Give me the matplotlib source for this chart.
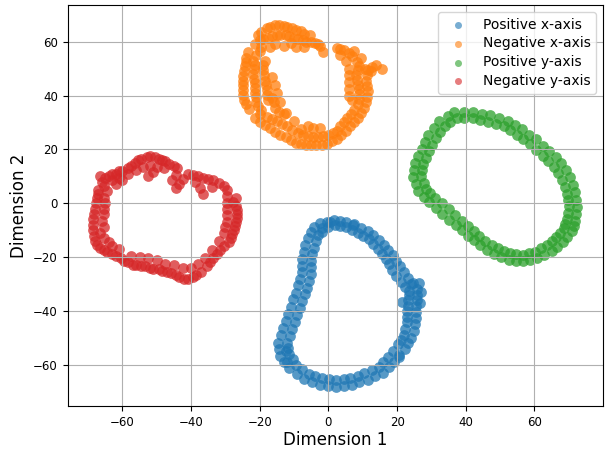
import matplotlib
matplotlib.use("Agg")
import matplotlib.pyplot as plt

# ---- DATA ----
labels = ["Positive x-axis", "Negative x-axis", "Positive y-axis", "Negative y-axis"]
colors = ["#1f77b4", "#ff7f0e", "#2ca02c", "#d62728"]

pos_x_pts = [
    (-2.4, -7.4), (-0.1, -8.9), (1.6, -6.3), (3.5, -8.6), (5.2, -6.8), (6.8, -10.1),
    (9.4, -9.2), (10, -12.3), (13.1, -11.8), (13, -15.2), (16.2, -15.5), (15.6, -18.8),
    (18.8, -19.2), (17.7, -22.6), (20.8, -23.4), (19.8, -27), (23.2, -27.8), (22.2, -31),
    (25.8, -31.8), (23.4, -34), (25.9, -35.9), (23.1, -38), (25.4, -40.4), (22.8, -42.2),
    (25.3, -44.9), (22.4, -46.6), (24.2, -50.1), (21.1, -50.8), (22.2, -54), (18.8, -54.9),
    (19.2, -59), (16, -59), (16, -62.9), (12.6, -61.9), (11.5, -65.5), (8.6, -64),
    (6.8, -67.5), (4.4, -65.2), (2.1, -68.1), (0.3, -65.2), (-2.4, -67.4), (-3.8, -64.1),
    (-7.2, -65.3), (-7.6, -61.6), (-11.4, -61.3), (-10.4, -57.9), (-14, -56.7), (-11.8, -53.9),
    (-14.6, -51.9), (-11.3, -49.2), (-13.1, -46.2), (-9.8, -44), (-11.7, -41.2), (-8.4, -38.8),
    (-10.2, -35.6), (-6.9, -33.6), (-8.8, -30.5), (-5.7, -28.8), (-7.8, -25.6), (-5.2, -23.7),
    (-7.8, -20.7), (-4.8, -19), (-6.8, -15.6), (-3.6, -14.2), (-5.2, -10.6), (-2, -10.6),
    (27, -33), (26.8, -37), (26.5, -29.5), (21.5, -36.5), (24, -30), (0.5, -6.8),
    (7.5, -7.8), (-12.5, -55), (-12, -59), (20.5, -57),
    (-1.8, -9.2), (-0.3, -6.8), (1.8, -8.1), (3.3, -6.5), (5, -8.7), (7.3, -8),
    (8.6, -11.1), (11.4, -10.2), (11.7, -13.4), (14.7, -13.5), (14.4, -17), (17.5, -17.3),
    (16.8, -20.6), (19.8, -21.3), (18.6, -24.8), (22, -25.6), (21, -29.2), (24.5, -29.7),
    (23.4, -32.6), (25.8, -34.1), (23.3, -35.9), (25.6, -38.1), (22.8, -40), (25.4, -42.5),
    (22.9, -44.1), (24.8, -47.4), (22, -48.9), (23.2, -51.9), (20.2, -52.4), (20.7, -56.4),
    (17.4, -57.2), (17.6, -60.9), (14.6, -60.7), (13.7, -64.2), (10.5, -63.1), (9, -66.5),
    (6.4, -64.9), (4.4, -67.8), (2.3, -65.5), (-0.2, -67.8), (-1.8, -65), (-4.8, -66.4),
    (-5.8, -63.3), (-9.3, -63.3), (-9.4, -59.9), (-12.8, -59), (-11.6, -55.9), (-14.3, -54.3),
    (-12, -51.9), (-13.8, -49.1), (-10.5, -46.6), (-12.4, -43.8), (-9.1, -41.6), (-10.9, -38.5),
    (-7.6, -36.2), (-9.5, -33.2), (-6.2, -31.3), (-8.3, -28.1), (-5.2, -26.4), (-7.8, -23.3),
    (-5.2, -21.3), (-7.2, -18.1), (-4.2, -16.6), (-6, -13), (-3, -11.9), (-4.2, -8.7),
]

neg_x_pts = [
    # top arc
    (-20.5, 62.5), (-18, 65), (-15.5, 66), (-13, 65.8), (-10.5, 65), (-8, 63.8), (-5.5, 62.5),
    (-21.5, 59), (-19, 61), (-16.5, 62), (-14, 62.5), (-11.5, 62), (-9, 61), (-6.5, 60),
    (-4, 59.5), (-2.5, 58.5), (-17, 58), (-13, 58.5), (-9.5, 58), (-1.5, 56),
    (-19.5, 63.5), (-17, 65.5), (-14.5, 66), (-12, 65.5), (-9.5, 64.5), (-7, 63),
    (-20, 60.5), (-17.5, 61.5), (-15, 62.3), (-12.5, 62.3), (-10, 61.5), (-7.5, 60.5),
    (-5, 60), (-3, 59), (-15.5, 59), (-11, 59.5), (-19.5, 58), (-7, 58),
    # left side
    (-23.5, 56), (-24, 52.5), (-24.5, 49), (-25, 45.5), (-25, 42), (-24.5, 38.5), (-23, 35),
    (-21, 55), (-21.5, 51.5), (-22, 48), (-21.5, 44.5), (-21.5, 41), (-21, 37.5), (-19.5, 34.5),
    (-18.5, 53), (-19, 49.5), (-18.5, 45.5), (-18, 42), (-17.5, 38.5), (-16.5, 39), (-15.5, 35.5),
    (-24, 54), (-24.3, 50.8), (-24.8, 47.3), (-25, 43.8), (-24.8, 40.3), (-24, 36.8),
    (-22, 53), (-21.8, 49.8), (-21.8, 46.3), (-21.5, 42.8), (-21.2, 39.3), (-20.5, 36),
    (-19, 51.3), (-18.8, 47.5), (-18.2, 44), (-17.8, 40.3), (-16, 37.5), (-20, 56.5),
    (-15, 41), (-14, 37.5), (-12.5, 33.5), (-10, 30.5), (-16.5, 47), (-15.5, 44),
    # bottom
    (-21.5, 31.5), (-18.5, 29), (-15.5, 26.5), (-12.5, 24.5), (-18, 32), (-15, 30.5),
    (-12, 28.5), (-13, 33), (-9.5, 22.5), (-6.5, 21.5), (-3.5, 21.5), (-0.5, 22),
    (-9, 26), (-6, 25), (-3, 24.5), (0, 25.5), (2.5, 27), (-6, 28.5), (-2.5, 28),
    (-20, 30.2), (-17, 27.8), (-14, 25.5), (-19.8, 33), (-16.5, 31.3), (-13.5, 29.5),
    (-14.5, 34), (-10.5, 27.3), (-11, 23.5), (-8, 22), (-5, 21.5), (-2, 21.7), (1, 23),
    (-7.5, 25.5), (-4.5, 24.7), (-1.5, 25), (1.2, 26.2), (-4.5, 28), (-8, 27.5),
    # right side
    (2.5, 24), (5, 27), (7.5, 30), (9.5, 33.5), (4.5, 30), (6.5, 33),
    (11, 37.5), (11.5, 41.5), (11, 45.5), (11.5, 49.5), (14, 51.5), (15.5, 50),
    (8.5, 37), (9, 40.5), (8.5, 44), (8, 47.5), (9, 51), (12.5, 49),
    (6, 40), (6, 45), (6, 50), (7, 54.5), (4.5, 57), (2.5, 57.5), (9.5, 54), (5, 53),
    (3.8, 25.5), (6.2, 28.5), (8.5, 31.8), (3.5, 28.5), (5.5, 31.5), (7.5, 34.5),
    (10.3, 35.5), (11.3, 39.5), (11.3, 43.5), (11.2, 47.5), (12.8, 50.5), (8.8, 38.8),
    (8.8, 42.3), (8.2, 45.8), (8.5, 49.3), (10.8, 50), (7, 38.5), (6, 42.5), (6, 47.5),
    (8.3, 52.5), (6, 55.8), (3.5, 57.3), (3.5, 55), (7.5, 56.5),
]

pos_y_pts = [
    (36.6, 33.9), (39.6, 31.5), (42, 33.9), (44.2, 30.9), (47.1, 32.7), (48.9, 29.4),
    (52.3, 30.7), (52.9, 27.1), (56.4, 27.5), (56.7, 23.8), (60.4, 23.7), (60.5, 19.9),
    (64.3, 19.3), (64, 15.7), (67.9, 14.9), (66.9, 11.2), (70.5, 9.8), (68.8, 6.2),
    (71.9, 4), (69.7, 1.2), (72.4, -1.3), (69.7, -3.5), (71.9, -6.6), (69, -7.6),
    (70.9, -10.5), (67.6, -10.9), (68.2, -14.5), (65.1, -14.1), (65, -17.8), (62, -16.8),
    (60.9, -20.4), (58.4, -18.6), (56.6, -21.6), (54.7, -18.9), (52.5, -21), (51.2, -17.7),
    (48.2, -19), (47.6, -15.4), (44.1, -15.7), (44, -12.1), (40.7, -12), (40.6, -8.4),
    (37.1, -8.2), (36.9, -4.4), (33.2, -3.9), (33, -0.1), (29.3, 0.4), (29.7, 3.8),
    (26.2, 4.4), (27.8, 7.6), (24.7, 9.8), (27.3, 12.3), (25.1, 15), (28.4, 16.9),
    (27.2, 20.2), (30.3, 21.8), (29.1, 25.3), (32.6, 26.4), (32.3, 30.4), (35.4, 30),
    (37.6, 31.5), (39.5, 33.9), (42, 31.5), (44.6, 33.3), (46.5, 30.3), (49.6, 31.7),
    (51.1, 28.5), (54.4, 29), (54.8, 25.5), (58.4, 25.5), (58.6, 21.9), (62.4, 21.4),
    (62.5, 17.7), (66.2, 17), (65.7, 13.5), (69.2, 12.3), (68.1, 8.8), (71.2, 6.8),
    (69.5, 3.4), (72.2, 1.3), (70, -1.1), (72.2, -3.9), (69.5, -5.8), (71.5, -8.5),
    (68.7, -9.3), (69.5, -12.6), (66.4, -12.7), (66.6, -16.2), (63.8, -15.6), (62.9, -19.1),
    (60.1, -18), (58.7, -21), (56.6, -19.2), (54.6, -21.3), (52.9, -18.6), (50.3, -20),
    (49.4, -16.8), (46.1, -17.3), (45.7, -13.9), (42.4, -13.8), (42.3, -10.2), (38.9, -10.1),
    (38.9, -6.6), (35.2, -6.1), (35, -2.3), (31.3, -1.8), (31.1, 2), (27.8, 2.3),
    (28.4, 5.4), (25.4, 7.2), (27.1, 10), (24.9, 12.4), (27.5, 14.6), (26.2, 17.7),
    (29.4, 19.4), (28.2, 22.7), (31.3, 24.1), (30.8, 27.9), (34.1, 28.8), (34.9, 32.3),
]

neg_y_pts = [
    # left side
    (-68, -14), (-68.5, -10), (-68.5, -6), (-68, -2), (-67.5, 2), (-67, 5),
    (-65.5, -9), (-65.5, -4), (-65, 0),
    (-68.2, -12), (-68.5, -8), (-68.3, -4), (-67.8, 0), (-67.2, 3.5), (-66.5, -11),
    (-66, -6.5), (-65.5, -2), (-65.5, 2),
    # upper-left blob
    (-66, 8), (-64, 10), (-62, 11), (-60, 12), (-64.5, 4.5), (-62, 7), (-60, 8.5),
    (-65, 9.5), (-63, 11), (-61, 12), (-65.5, 6.5), (-63, 8.5), (-61, 9.5), (-58.5, 11),
    (-66.5, 10),
    # top bump
    (-57.5, 14), (-55.5, 16), (-53, 17), (-50.5, 17), (-48.5, 16), (-46.5, 14.5), (-44, 13),
    (-54, 13.5), (-50, 13.5), (-52.5, 10),
    (-58.5, 13), (-56.5, 15), (-54.5, 16.5), (-52, 17.5), (-49.5, 16.5), (-47.5, 15.5),
    (-45, 14), (-56, 12.5), (-52, 14), (-48, 13), (-51, 11.5),
    (-45.5, 8.5), (-43.5, 7), (-44.5, 10.5), (-42.5, 9), (-44.5, 5.5),
    # upper right
    (-41, 11), (-38, 10), (-35, 9), (-32, 7.5), (-29.5, 5), (-36.5, 3.5),
    (-39.5, 10.5), (-36.5, 9.5), (-33.5, 8.5), (-30.5, 6.5), (-39, 8), (-34, 6), (-37.5, 5.5),
    # right side
    (-27, 2), (-26.8, -1), (-26.5, -4), (-26.8, -7), (-27.5, -10), (-28.5, -13),
    (-29.5, 2.5), (-29.5, -2), (-29.5, -7), (-30.5, -11),
    (-27.8, 0.5), (-26.6, -2.5), (-26.6, -5.5), (-27.2, -8.5), (-28, -11.5), (-29, -14.5),
    (-29.5, 0), (-29.5, -4.5), (-30, -9),
    # lower right
    (-30.5, -16), (-32.5, -19), (-34.5, -22),
    (-31.5, -17.5), (-33.5, -20.5), (-35.5, -23.5), (-32, -14), (-34, -17.5), (-36, -20.5),
    # bottom
    (-37, -25.5), (-39.5, -27.5), (-42, -28), (-44.5, -26.5), (-47, -25.5), (-49.5, -24.5),
    (-52, -24), (-54.5, -23.5), (-57, -23), (-59.5, -21.5),
    (-40, -24), (-45, -23), (-50, -21), (-55, -20),
    (-38.5, -26.5), (-41, -28), (-43.5, -27.5), (-46, -26), (-48.5, -25), (-51, -24.5),
    (-53.5, -23.5), (-56, -23), (-58.5, -22), (-60.5, -20.5), (-38, -22.5), (-42.5, -24),
    (-47.5, -22.5), (-52.5, -20.5), (-57.5, -19.5),
    # bottom left
    (-62, -19.5), (-64.5, -18), (-66.5, -16.5), (-63, -16), (-65.5, -13),
    (-63, -19), (-65.5, -17.5), (-67.3, -15.5), (-61, -17), (-64, -14.5),
]

clusters = [pos_x_pts, neg_x_pts, pos_y_pts, neg_y_pts]

# ---- PLOT ----
fig = plt.figure(figsize=(6.05, 4.49), dpi=100)
ax = fig.add_axes([0.1117, 0.0958, 0.885, 0.893])

for pts, lab, col in zip(clusters, labels, colors):
    xs = [p[0] for p in pts]
    ys = [p[1] for p in pts]
    ax.scatter(xs, ys, s=60, color=col, alpha=0.75, linewidths=0, label=lab)

ax.set_xlim(-76, 80)
ax.set_ylim(-75.3, 73.6)
ax.set_xticks([-60, -40, -20, 0, 20, 40, 60])
ax.set_yticks([-60, -40, -20, 0, 20, 40, 60])
ax.tick_params(labelsize=8.5)
ax.set_xlabel("Dimension 1", fontsize=12, labelpad=2)
ax.set_ylabel("Dimension 2", fontsize=12)
ax.grid(True)
leg = ax.legend(loc="upper right", fontsize=10, labelspacing=0.35, markerscale=0.65)
for h in leg.legend_handles:
    h.set_alpha(0.6)

fig.savefig("out.png", dpi=100)
